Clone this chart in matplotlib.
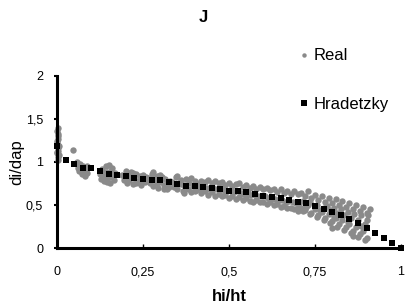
import matplotlib.pyplot as plt

plt.rcParams['font.family'] = ['Liberation Sans', 'DejaVu Sans']

# Hradetzky model, one point every 0.025 of hi/ht
hrad_x = [i * 0.025 for i in range(41)]
hrad_y = [1.18, 1.025, 0.98, 0.93, 0.925, 0.89, 0.86, 0.85, 0.836, 0.81,
          0.80, 0.786, 0.786, 0.763, 0.748, 0.725, 0.717, 0.712, 0.70, 0.686,
          0.663, 0.663, 0.647, 0.632, 0.609, 0.593, 0.578, 0.563, 0.54, 0.524,
          0.486, 0.459, 0.424, 0.385, 0.332, 0.286, 0.231, 0.177, 0.112, 0.054,
          0.0]

real_x = [
    # base of the stem
    0.002, 0.003, 0.001, 0.004, 0.002, 0.003, 0.001, 0.004, 0.002, 0.003,
    0.001, 0.003, 0.005, 0.005, 0.0, 0.0, 0.047,
    # ~0.07
    0.058, 0.062, 0.066, 0.07, 0.074, 0.078, 0.082, 0.086, 0.068, 0.075,
    0.08, 0.085, 0.072, 0.064, 0.087, 0.06,
    # ~0.15
    0.125, 0.128, 0.132, 0.135, 0.138, 0.142, 0.145, 0.148, 0.152, 0.155,
    0.158, 0.162, 0.165, 0.168, 0.13, 0.14, 0.15, 0.16, 0.145, 0.155,
    # ~0.22
    0.19, 0.195, 0.20, 0.205, 0.21, 0.215, 0.22, 0.225, 0.23, 0.235,
    0.24, 0.245, 0.25, 0.255, 0.26, 0.20, 0.22, 0.24, 0.21, 0.23, 0.25,
    # ~0.30
    0.265, 0.27, 0.275, 0.28, 0.285, 0.29, 0.295, 0.30, 0.305, 0.31,
    0.315, 0.32, 0.325, 0.33, 0.27, 0.29, 0.31, 0.28, 0.30, 0.32,
    # ~0.37
    0.335, 0.34, 0.345, 0.35, 0.355, 0.36, 0.365, 0.37, 0.375, 0.38,
    0.385, 0.39, 0.395, 0.40, 0.405, 0.41, 0.415, 0.35, 0.37, 0.39, 0.40, 0.36,
    # band 0.42-0.70, upper
    0.42, 0.43, 0.44, 0.45, 0.46, 0.47, 0.48, 0.49, 0.50, 0.51, 0.52, 0.53,
    0.54, 0.55, 0.56, 0.57, 0.58, 0.59, 0.60, 0.61, 0.62, 0.63, 0.64, 0.65,
    0.66, 0.67, 0.68, 0.69, 0.70,
    # band 0.42-0.70, lower
    0.42, 0.43, 0.44, 0.45, 0.46, 0.47, 0.48, 0.49, 0.50, 0.51, 0.52, 0.53,
    0.54, 0.55, 0.56, 0.57, 0.58, 0.59, 0.60, 0.61, 0.62, 0.63, 0.64, 0.65,
    0.66, 0.67, 0.68, 0.69, 0.70,
    # band 0.42-0.70, middle
    0.425, 0.435, 0.445, 0.455, 0.465, 0.475, 0.485, 0.495, 0.505, 0.515,
    0.525, 0.535, 0.545, 0.555, 0.565, 0.575, 0.585, 0.595, 0.605, 0.615,
    0.625, 0.635, 0.645, 0.655, 0.665, 0.675, 0.685, 0.695, 0.705,
    # tail, upper branch
    0.71, 0.72, 0.73, 0.74, 0.75, 0.76, 0.77, 0.78, 0.79, 0.80, 0.81, 0.82,
    0.83, 0.84, 0.85, 0.86, 0.87, 0.88, 0.89, 0.90, 0.91, 0.905, 0.885,
    0.865, 0.845, 0.825, 0.805, 0.785,
    # tail, lower branch
    0.71, 0.72, 0.73, 0.74, 0.75, 0.76, 0.77, 0.78, 0.79, 0.80, 0.81, 0.82,
    0.83, 0.84, 0.85, 0.86, 0.87, 0.88, 0.89, 0.90, 0.895, 0.875, 0.855,
    0.835, 0.815, 0.795, 0.775, 0.755, 0.735, 0.715, 0.70,
    # tail, middle
    0.715, 0.735, 0.755, 0.775, 0.795, 0.815, 0.835, 0.855, 0.875, 0.895,
    0.725, 0.765, 0.805, 0.845, 0.885, 0.80, 0.86, 0.90,
]
real_y = [
    1.02, 1.06, 1.10, 1.13, 1.16, 1.20, 1.24, 1.27, 1.30, 1.33,
    1.36, 1.39, 1.08, 1.18, 1.12, 1.22, 1.14,
    1.00, 0.97, 0.94, 0.91, 0.88, 0.86, 0.84, 0.87, 0.98, 0.95,
    0.92, 0.90, 0.86, 0.90, 0.95, 0.93,
    0.86, 0.80, 0.92, 0.84, 0.78, 0.95, 0.88, 0.82, 0.97, 0.76,
    0.90, 0.84, 0.79, 0.87, 0.89, 0.81, 0.86, 0.93, 0.77, 0.83,
    0.85, 0.79, 0.90, 0.76, 0.83, 0.88, 0.74, 0.81, 0.86, 0.78,
    0.84, 0.73, 0.80, 0.77, 0.82, 0.82, 0.87, 0.76, 0.79, 0.75, 0.85,
    0.81, 0.75, 0.86, 0.72, 0.79, 0.84, 0.70, 0.77, 0.82, 0.68,
    0.80, 0.74, 0.71, 0.78, 0.78, 0.76, 0.73, 0.88, 0.85, 0.69,
    0.77, 0.71, 0.82, 0.68, 0.75, 0.79, 0.66, 0.73, 0.80, 0.69,
    0.76, 0.65, 0.72, 0.78, 0.67, 0.74, 0.70, 0.84, 0.64, 0.81, 0.66, 0.74,
    0.78, 0.77, 0.79, 0.76, 0.78, 0.75, 0.77, 0.73, 0.75, 0.72, 0.74, 0.76,
    0.71, 0.73, 0.70, 0.72, 0.69, 0.71, 0.68, 0.70, 0.67, 0.69, 0.65, 0.68,
    0.64, 0.66, 0.63, 0.66, 0.63,
    0.64, 0.66, 0.62, 0.65, 0.61, 0.63, 0.60, 0.62, 0.58, 0.61, 0.57, 0.59,
    0.56, 0.58, 0.55, 0.54, 0.56, 0.53, 0.54, 0.51, 0.53, 0.50, 0.51, 0.48,
    0.49, 0.47, 0.46, 0.45, 0.43,
    0.71, 0.70, 0.69, 0.70, 0.68, 0.69, 0.67, 0.66, 0.67, 0.65,
    0.66, 0.64, 0.63, 0.64, 0.62, 0.62, 0.61, 0.60, 0.60, 0.58,
    0.58, 0.57, 0.56, 0.56, 0.54, 0.55, 0.53, 0.52, 0.52,
    0.64, 0.60, 0.66, 0.58, 0.62, 0.56, 0.60, 0.54, 0.58, 0.52, 0.57, 0.50,
    0.55, 0.48, 0.52, 0.45, 0.50, 0.43, 0.48, 0.41, 0.45, 0.38, 0.38,
    0.40, 0.42, 0.45, 0.47, 0.49,
    0.47, 0.44, 0.50, 0.41, 0.45, 0.38, 0.42, 0.35, 0.39, 0.31, 0.35, 0.28,
    0.32, 0.24, 0.28, 0.20, 0.24, 0.16, 0.20, 0.12, 0.09, 0.13, 0.17,
    0.21, 0.25, 0.29, 0.33, 0.36, 0.40, 0.43, 0.46,
    0.55, 0.53, 0.50, 0.47, 0.44, 0.41, 0.38, 0.35, 0.32, 0.28,
    0.48, 0.44, 0.36, 0.30, 0.26, 0.23, 0.14, 0.33,
]

x_ticks = [0, 0.25, 0.5, 0.75, 1]
x_labels = ['0', '0,25', '0,5', '0,75', '1']
y_ticks = [0, 0.5, 1, 1.5, 2]
y_labels = ['0', '0,5', '1', '1,5', '2']

fig = plt.figure(figsize=(4.07, 3.07), dpi=100)
ax = fig.add_axes([0.140, 0.192, 0.845, 0.561])

ax.plot(real_x, real_y, 'o', color='#8a8a8a', markersize=4.6,
        markeredgewidth=0, label='Real', clip_on=False)
ax.plot(hrad_x, hrad_y, 's', color='black', markersize=4.2,
        markeredgewidth=0, label='Hradetzky', clip_on=False)

ax.set_xlim(0, 1)
ax.set_ylim(0, 2)
ax.set_xticks(x_ticks)
ax.set_xticklabels(x_labels, fontsize=9)
ax.set_yticks(y_ticks)
ax.set_yticklabels(y_labels, fontsize=9)
ax.tick_params(axis='x', direction='in', length=3, width=1, pad=13)
ax.tick_params(axis='y', direction='out', length=2, width=1.5, pad=8)

for side in ['top', 'right']:
    ax.spines[side].set_visible(False)
for side in ['left', 'bottom']:
    ax.spines[side].set_linewidth(2.2)

ax.set_xlabel('hi/ht', fontsize=12, fontweight='bold', labelpad=8)
ax.set_ylabel('di/dap', fontsize=12, labelpad=1)

fig.text(0.5, 1 - 18 / 307, 'J', fontsize=12, fontweight='bold',
         ha='center', va='center')

leg = fig.legend(loc='center left', bbox_to_anchor=(0.713, 0.739),
                 frameon=False, fontsize=12, handlelength=0.6,
                 handletextpad=0.3, labelspacing=2.0, borderpad=0)
leg.legend_handles[0].set_markersize(3.2)

fig.savefig('out.png', dpi=100)
